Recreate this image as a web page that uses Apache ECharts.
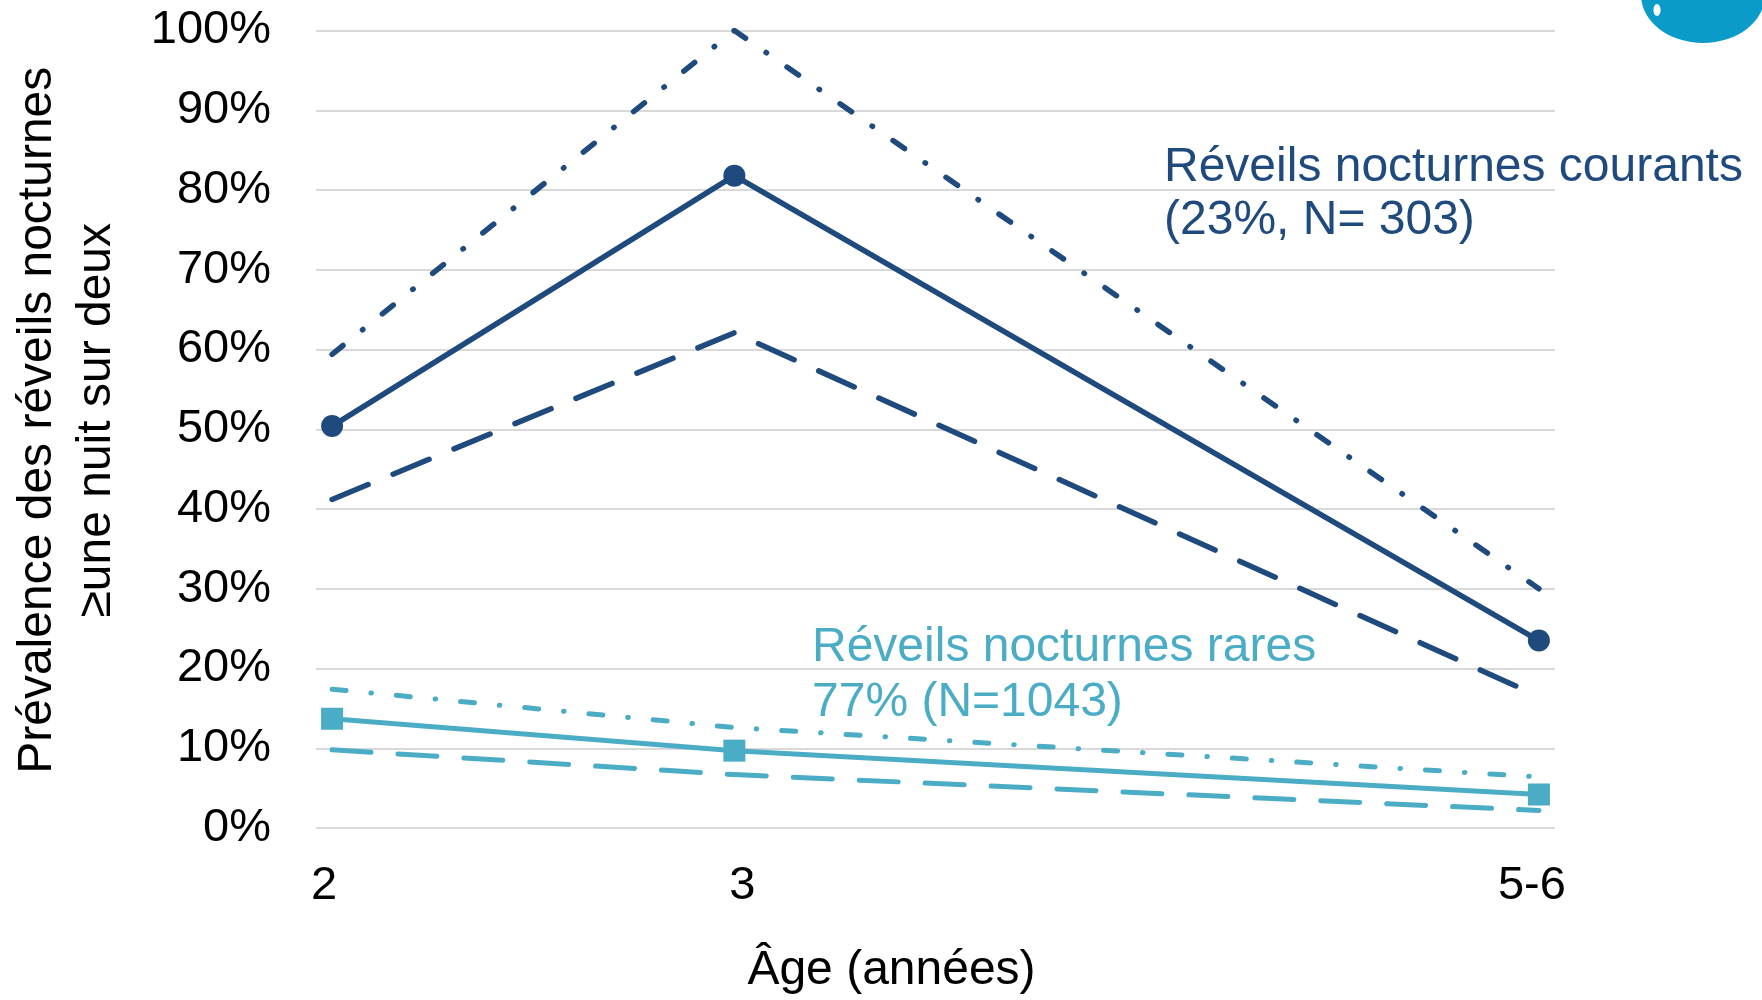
<!DOCTYPE html>
<html><head><meta charset="utf-8">
<script src="https://cdn.jsdelivr.net/npm/echarts@6/dist/echarts.min.js"></script>
<style>html,body{margin:0;padding:0;background:#fff}#c{width:1762px;height:1000px}</style>
</head><body><div id="c"></div>
<script>
// ---- data ----
const ages = [2, 3, 5];
const ageLabels = ['2', '3', '5-6'];
const yTickStep = 10;
const courantsMain = [50.4, 81.8, 23.5];
const courantsLow  = [41.2, 62.1, 16.5];
const courantsHigh = [59.4, 100, 30.0];
const raresMain = [13.7, 9.7, 4.2];
const raresLow  = [9.8, 6.7, 2.2];
const raresHigh = [17.4, 12.6, 6.4];
const yTitle = 'Prévalence des réveils nocturnes\n≥une nuit sur deux';
const xTitle = 'Âge (années)';
const noteCourants = ['Réveils nocturnes courants', '(23%, N= 303)'];
const noteRares = ['Réveils nocturnes rares', '77% (N=1043)'];

const FONT = '"Liberation Sans", Arial, sans-serif';
const DARK = '#1F4A7D';
const LIGHT = '#4BACC6';
const pairs = arr => arr.map((v, i) => [ages[i], v]);

function lineSeries(name, arr, color, width, kind) {
  const s = {
    name, type: 'line', data: pairs(arr), silent: true, animation: false,
    lineStyle: { color, width, cap: 'round', join: 'round' },
    itemStyle: { color },
    z: kind === 'solid' ? 5 : 3
  };
  if (kind === 'solid') {
    s.symbol = color === DARK ? 'circle' : 'rect';
    s.symbolSize = 22;
    s.showSymbol = true;
  } else {
    s.symbol = 'none';
    s.showSymbol = false;
    s.lineStyle.type = kind === 'dash' ? [39, 27] : [14, 25, 0.5, 25];
  }
  return s;
}

const labelStyle = { color: '#000', fontFamily: FONT, fontSize: 47 };
const chart = echarts.init(document.getElementById('c'), null, { renderer: 'canvas' });
chart.setOption({
  backgroundColor: '#fff',
  animation: false,
  grid: { left: 313, right: 207, top: 30.5, bottom: 169.5, containLabel: false },
  xAxis: {
    type: 'value', min: 1.96, max: 5.04,
    axisLine: { show: false }, axisTick: { show: false }, splitLine: { show: false },
    axisLabel: {
      customValues: ages,
      formatter: v => {
        const i = ages.indexOf(v);
        return i < 0 ? '' : '{p' + i + '|' + ageLabels[i] + '}';
      },
      margin: 35,
      rich: {
        p0: Object.assign({ padding: [0, 16, 0, 0] }, labelStyle),
        p1: Object.assign({ padding: [0, 0, 0, 16] }, labelStyle),
        p2: Object.assign({ padding: [0, 14, 0, 0] }, labelStyle)
      }
    },
    name: xTitle, nameLocation: 'middle', nameGap: 119,
    nameTextStyle: { color: '#000', fontFamily: FONT, fontSize: 48, padding: [0, 88, 0, 0] }
  },
  yAxis: {
    type: 'value', min: 0, max: 100, interval: yTickStep,
    axisLine: { show: false }, axisTick: { show: false },
    splitLine: { lineStyle: { color: '#D9D9D9', width: 2 } },
    axisLabel: { formatter: v => v + '%', color: '#000', fontFamily: FONT, fontSize: 47, margin: 45 },
    name: yTitle, nameLocation: 'middle', nameGap: 190, nameRotate: 90,
    nameTextStyle: { color: '#000', fontFamily: FONT, fontSize: 48, lineHeight: 59, padding: [0, 0, 0, 18] }
  },
  series: [
    lineSeries('Courants IC haut', courantsHigh, DARK, 5.5, 'dashdot'),
    lineSeries('Courants IC bas', courantsLow, DARK, 5.5, 'dash'),
    lineSeries('Courants', courantsMain, DARK, 5.5, 'solid'),
    lineSeries('Rares IC haut', raresHigh, LIGHT, 5, 'dashdot'),
    lineSeries('Rares IC bas', raresLow, LIGHT, 5, 'dash'),
    lineSeries('Rares', raresMain, LIGHT, 5, 'solid')
  ],
  graphic: [
    { type: 'text', left: 1164, top: 171 - 27, style: { text: noteCourants[0], fill: DARK, font: '48px ' + FONT } },
    { type: 'text', left: 1164, top: 224 - 27, style: { text: noteCourants[1], fill: DARK, font: '48px ' + FONT } },
    { type: 'text', left: 812, top: 651 - 27, style: { text: noteRares[0], fill: LIGHT, font: '48px ' + FONT } },
    { type: 'text', left: 812, top: 706 - 27, style: { text: noteRares[1], fill: LIGHT, font: '48px ' + FONT } },
    { type: 'circle', x: 1703, y: -5, scaleX: 62 / 48, scaleY: 1, shape: { cx: 0, cy: 0, r: 48 }, style: { fill: '#0A9BC8' }, z: 10 },
    { type: 'circle', x: 1657, y: 10, scaleX: 0.6, scaleY: 1, shape: { cx: 0, cy: 0, r: 6 }, style: { fill: '#fff' }, z: 11 }
  ]
});
</script></body></html>
